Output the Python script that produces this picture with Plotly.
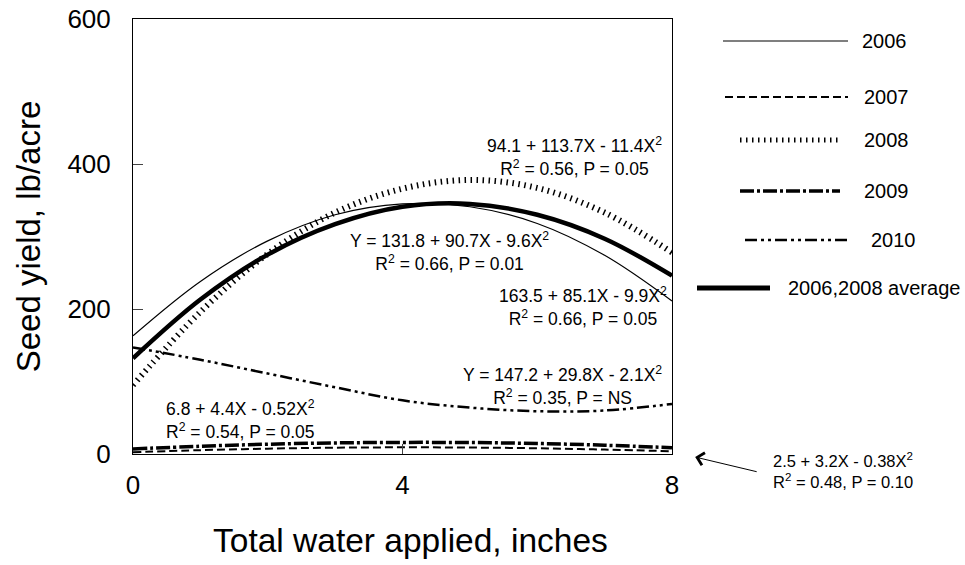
import plotly.graph_objects as go

water = [0, 1, 2, 3, 4, 5, 6, 7, 8]

y2006 = [163, 238, 294, 330, 345, 341, 318, 274, 211]
y2007 = [2.5, 5.3, 7.4, 8.7, 9.2, 8.9, 7.9, 6.1, 3.8]
y2008 = [95, 196, 276, 333, 366, 378, 367, 333, 278]
y2009 = [7, 10.7, 13.5, 15.3, 16, 15.8, 14.5, 12.1, 8.7]
y2010 = [147, 130, 111, 92, 74, 64, 59, 60, 69]
y_avg = [132, 213, 275, 317, 341, 345, 330, 297, 246]

FONT = 'Arial, Liberation Sans, sans-serif'

fig = go.Figure()
fig.add_trace(go.Scatter(x=water, y=y2007, mode='lines', line_shape='spline',
                         line=dict(color='black', width=2, dash='8px,4px')))
fig.add_trace(go.Scatter(x=water, y=y2009, mode='lines', line_shape='spline',
                         line=dict(color='black', width=3.5, dash='14px,3px,3px,3px')))
fig.add_trace(go.Scatter(x=water, y=y2010, mode='lines', line_shape='spline',
                         line=dict(color='black', width=2.5, dash='12px,4px,3px,4px,3px,4px')))
fig.add_trace(go.Scatter(x=water, y=y2008, mode='lines', line_shape='spline',
                         line=dict(color='black', width=6, dash='1.5px,4.5px')))
fig.add_trace(go.Scatter(x=water, y=y2006, mode='lines', line_shape='spline',
                         line=dict(color='black', width=1.2)))
fig.add_trace(go.Scatter(x=water, y=y_avg, mode='lines', line_shape='spline',
                         line=dict(color='black', width=4.5)))

# equations on the plot (data coords)
eqs = [
    (6.56, 410, '94.1 + 113.7X - 11.4X<sup>2</sup><br>R<sup>2</sup> = 0.56, P = 0.05'),
    (4.70, 280, 'Y = 131.8 + 90.7X - 9.6X<sup>2</sup><br>R<sup>2</sup> = 0.66, P = 0.01'),
    (6.68, 204, '163.5 + 85.1X - 9.9X<sup>2</sup><br>R<sup>2</sup> = 0.66, P = 0.05'),
    (6.38, 94, 'Y = 147.2 + 29.8X - 2.1X<sup>2</sup><br>R<sup>2</sup> = 0.35, P = NS'),
    (1.59, 48, '6.8 + 4.4X - 0.52X<sup>2</sup><br>R<sup>2</sup> = 0.54, P = 0.05'),
]
for ex, ey, txt in eqs:
    fig.add_annotation(x=ex, y=ey, text=txt, showarrow=False,
                       xanchor='center', yanchor='middle',
                       font=dict(size=17.5, color='black', family=FONT))

# equation outside with arrow
fig.add_annotation(xref='paper', yref='paper', x=1.317, y=-0.037,
                   xanchor='center', yanchor='middle',
                   text='2.5 + 3.2X - 0.38X<sup>2</sup><br>R<sup>2</sup> = 0.48, P = 0.10',
                   showarrow=False, font=dict(size=16.5, color='black', family=FONT))
fig.add_annotation(xref='paper', yref='paper', x=1.043, y=-0.007,
                   ax=63, ay=15, axref='pixel', ayref='pixel',
                   showarrow=True, arrowhead=4, arrowsize=2.5, arrowwidth=1,
                   arrowcolor='black', text='')

# x title (sits a little right of the plot centre in the original)
fig.add_annotation(xref='paper', yref='paper', x=0.514, y=-0.198,
                   xanchor='center', yanchor='middle', showarrow=False,
                   text='Total water applied, inches',
                   font=dict(size=33.5, color='black', family=FONT))

# hand-made legend to the right (screen pixels -> paper)
legend = [
    (723, 848, 41, 860, '2006', dict(color='black', width=1.2)),
    (725, 848, 97, 862, '2007', dict(color='black', width=2, dash='8px,4px')),
    (740, 838, 140, 862, '2008', dict(color='black', width=5, dash='1.5px,4.5px')),
    (740, 840, 191, 862, '2009', dict(color='black', width=3.5, dash='14px,3px,3px,3px')),
    (745, 848, 240, 869, '2010', dict(color='black', width=2.5, dash='12px,4px,3px,4px,3px,4px')),
    (697, 770, 288, 786, '2006,2008 average', dict(color='black', width=5)),
]
x0p, wp = 133, 672 - 133
y0p, hp = 454, 454 - 19
def px(v):
    return (v - x0p) / wp
def py(v):
    return (y0p - v) / hp
for xa, xb, yy, xt, label, ln in legend:
    fig.add_shape(type='line', xref='paper', yref='paper',
                  x0=px(xa), x1=px(xb), y0=py(yy), y1=py(yy), line=ln)
    fig.add_annotation(xref='paper', yref='paper', x=px(xt), y=py(yy),
                       xanchor='left', yanchor='middle', text=label, showarrow=False,
                       font=dict(size=20, color='black', family=FONT))

fig.update_xaxes(range=[0, 8], tickvals=[0, 4, 8], ticks='inside', ticklen=10,
                 showgrid=False, zeroline=False, showline=True, linecolor='black',
                 mirror=True, linewidth=1, tickfont=dict(size=26, color='black'),
                 ticklabelstandoff=8, automargin=False, ticklabeloverflow='allow')
fig.update_yaxes(range=[0, 600], tickvals=[0, 200, 400, 600], ticks='inside', ticklen=10,
                 showgrid=False, zeroline=False, showline=True, linecolor='black',
                 mirror=True, linewidth=1, tickfont=dict(size=26, color='black'),
                 ticklabelstandoff=16, automargin=False, ticklabeloverflow='allow',
                 title=dict(text='Seed yield, lb/acre', font=dict(size=33, color='black'),
                            standoff=16))
fig.update_layout(width=965, height=565, showlegend=False,
                  paper_bgcolor='white', plot_bgcolor='white',
                  font=dict(family=FONT, color='black'),
                  margin=dict(l=133, r=293, t=19, b=111))
# drop the default body margin so the figure fills the window
fig.write_html("out.html", config={'displayModeBar': False},
               post_script="document.body.style.margin='0';document.body.style.overflow='hidden';")
